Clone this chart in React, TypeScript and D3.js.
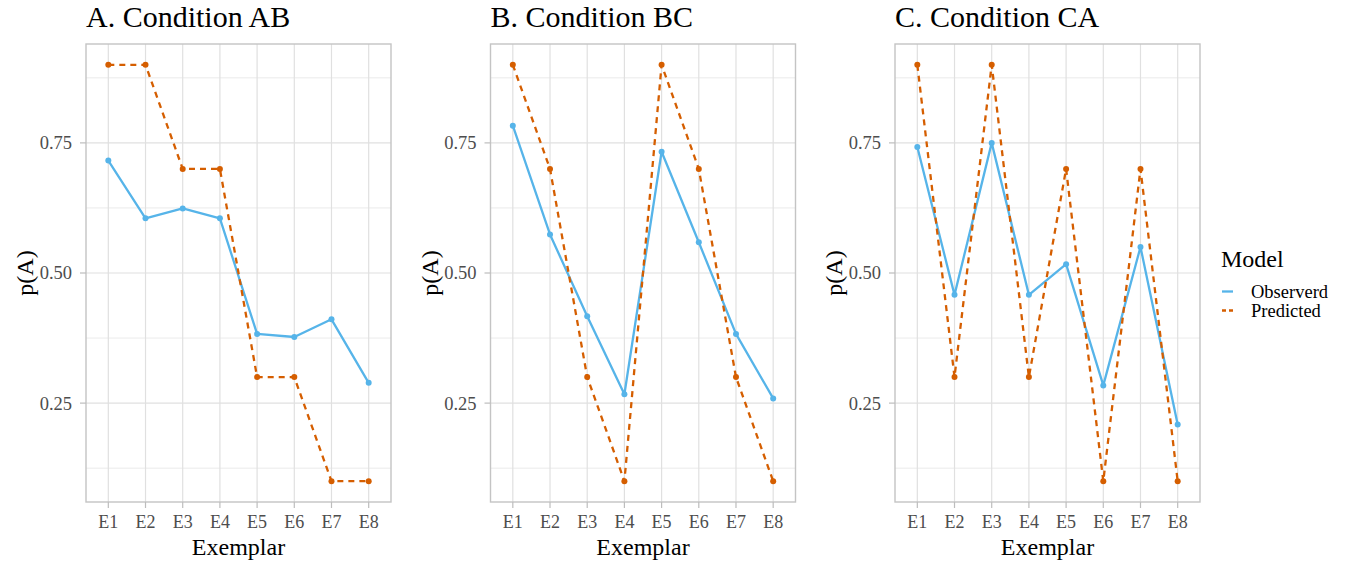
import React from "react";
import * as d3 from "d3";

const exemplars = ["E1", "E2", "E3", "E4", "E5", "E6", "E7", "E8"];
const panelTitles = ["A. Condition AB", "B. Condition BC", "C. Condition CA"];
const observedAB = [0.716, 0.605, 0.624, 0.605, 0.383, 0.377, 0.411, 0.289];
const predictedAB = [0.9, 0.9, 0.7, 0.7, 0.3, 0.3, 0.1, 0.1];
const observedBC = [0.783, 0.574, 0.417, 0.267, 0.733, 0.559, 0.383, 0.259];
const predictedBC = [0.9, 0.7, 0.3, 0.1, 0.9, 0.7, 0.3, 0.1];
const observedCA = [0.742, 0.458, 0.75, 0.458, 0.517, 0.284, 0.55, 0.209];
const predictedCA = [0.9, 0.3, 0.9, 0.3, 0.7, 0.1, 0.7, 0.1];
const yTicks = [0.25, 0.5, 0.75];
const yMinor = [0.125, 0.375, 0.625, 0.875];
const seriesNames = ["Observerd", "Predicted"];

const BLUE = "#56B4E9";
const ORANGE = "#D55E00";
const FONT = "'Liberation Serif', 'Times New Roman', serif";

const panelLefts = [86, 490.5, 895];
const panelWidth = 305;
const top = 44;
const bottom = 502;

function Panel({ left, title, observed, predicted }: any) {
  const x = d3.scalePoint<string>().domain(exemplars).range([left, left + panelWidth]).padding(0.6);
  const y = d3.scaleLinear().domain([0.06, 0.94]).range([bottom, top]);
  const line = d3
    .line<number>()
    .x((_, i) => x(exemplars[i]) as number)
    .y((d) => y(d));
  return (
    <g>
      {yMinor.map((t) => (
        <line key={"mn" + t} x1={left} x2={left + panelWidth} y1={y(t)} y2={y(t)} stroke="#E6E6E6" strokeWidth={0.8} />
      ))}
      {yTicks.map((t) => (
        <line key={"mj" + t} x1={left} x2={left + panelWidth} y1={y(t)} y2={y(t)} stroke="#E0E0E0" strokeWidth={1.2} />
      ))}
      {exemplars.map((e) => (
        <line key={"v" + e} x1={x(e)} x2={x(e)} y1={top} y2={bottom} stroke="#E0E0E0" strokeWidth={1.2} />
      ))}
      <rect x={left} y={top} width={panelWidth} height={bottom - top} fill="none" stroke="#C4C4C4" strokeWidth={1.4} />
      {yTicks.map((t) => (
        <g key={"yt" + t}>
          <line x1={left - 6} x2={left} y1={y(t)} y2={y(t)} stroke="#BDBDBD" strokeWidth={1.2} />
          <text x={left - 14} y={y(t)} dy="0.35em" textAnchor="end" fontSize={18.5} fill="#4D4D4D" fontFamily={FONT}>
            {d3.format(".2f")(t)}
          </text>
        </g>
      ))}
      {exemplars.map((e) => (
        <g key={"xt" + e}>
          <line x1={x(e)} x2={x(e)} y1={bottom} y2={bottom + 6} stroke="#BDBDBD" strokeWidth={1.2} />
          <text x={x(e)} y={528} textAnchor="middle" fontSize={18} fill="#4D4D4D" fontFamily={FONT}>
            {e}
          </text>
        </g>
      ))}
      <text x={left + panelWidth / 2} y={555} textAnchor="middle" fontSize={24} fill="#000" fontFamily={FONT}>
        Exemplar
      </text>
      <text
        transform={`translate(${left - 53},${(top + bottom) / 2}) rotate(-90)`}
        textAnchor="middle"
        fontSize={24}
        fill="#000"
        fontFamily={FONT}
      >
        p(A)
      </text>
      <text x={left} y={27} fontSize={30} fill="#000" fontFamily={FONT}>
        {title}
      </text>
      <path d={line(observed) as string} fill="none" stroke={BLUE} strokeWidth={2.3} strokeLinejoin="round" />
      {observed.map((v: number, i: number) => (
        <circle key={"o" + i} cx={x(exemplars[i])} cy={y(v)} r={3} fill={BLUE} />
      ))}
      <path d={line(predicted) as string} fill="none" stroke={ORANGE} strokeWidth={2.3} strokeDasharray="6,5" />
      {predicted.map((v: number, i: number) => (
        <circle key={"p" + i} cx={x(exemplars[i])} cy={y(v)} r={3} fill={ORANGE} />
      ))}
    </g>
  );
}

export default function App() {
  const panels = [
    { observed: observedAB, predicted: predictedAB },
    { observed: observedBC, predicted: predictedBC },
    { observed: observedCA, predicted: predictedCA },
  ];
  return (
    <svg width={1349} height={562} style={{ position: "absolute", left: 0, top: 0, background: "#fff" }}>
      <rect x={0} y={0} width={1349} height={562} fill="#fff" />
      {panels.map((p, i) => (
        <Panel key={i} left={panelLefts[i]} title={panelTitles[i]} observed={p.observed} predicted={p.predicted} />
      ))}
      <g>
        <text x={1221} y={267} fontSize={24} fill="#000" fontFamily={FONT}>
          Model
        </text>
        <line x1={1222} x2={1233} y1={291.5} y2={291.5} stroke={BLUE} strokeWidth={2.3} />
        <line x1={1222} x2={1233} y1={310.5} y2={310.5} stroke={ORANGE} strokeWidth={2.3} strokeDasharray="4,3" />
        <text x={1251} y={291.5} dy="0.35em" fontSize={18.5} fill="#000" fontFamily={FONT}>
          {seriesNames[0]}
        </text>
        <text x={1251} y={310.5} dy="0.35em" fontSize={18.5} fill="#000" fontFamily={FONT}>
          {seriesNames[1]}
        </text>
      </g>
    </svg>
  );
}
